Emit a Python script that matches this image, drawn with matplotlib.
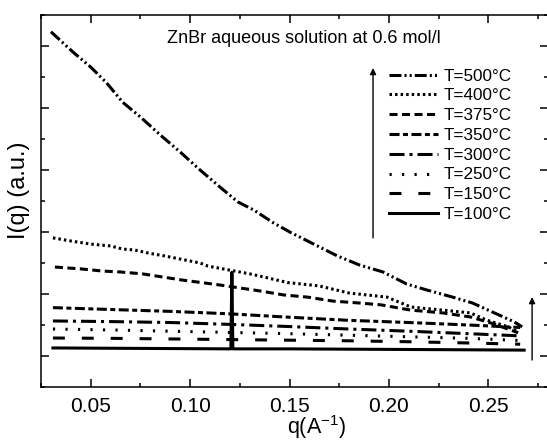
import matplotlib

matplotlib.use("Agg")
import matplotlib.pyplot as plt

plt.rcParams["font.family"] = ["Liberation Sans", "DejaVu Sans"]
plt.rcParams["lines.scale_dashes"] = False
plt.rcParams["mathtext.fontset"] = "custom"
plt.rcParams["mathtext.rm"] = "Liberation Sans"
plt.rcParams["mathtext.it"] = "Liberation Sans:italic"

# Curves (q in 1/A, intensity in arbitrary units).
Q_500 = [0.030, 0.041, 0.050, 0.058, 0.066, 0.075, 0.085, 0.095, 0.105, 0.115, 0.124,
         0.132, 0.142, 0.151, 0.174, 0.185, 0.197, 0.209, 0.219, 0.232, 0.242, 0.252,
         0.263, 0.267]
I_500 = [11.46, 10.81, 10.32, 9.81, 9.19, 8.71, 8.13, 7.58, 7.00, 6.45, 5.97,
         5.71, 5.29, 4.97, 4.23, 3.94, 3.71, 3.32, 3.13, 2.90, 2.71, 2.42,
         2.10, 1.94]
Q_400 = [0.031, 0.040, 0.050, 0.060, 0.066, 0.072, 0.079, 0.087, 0.105, 0.109, 0.130,
         0.139, 0.149, 0.165, 0.180, 0.199, 0.211, 0.227, 0.241, 0.249, 0.260, 0.265]
I_400 = [4.81, 4.71, 4.61, 4.55, 4.45, 4.42, 4.32, 4.23, 4.00, 3.90, 3.65,
         3.52, 3.37, 3.26, 3.03, 2.90, 2.58, 2.48, 2.39, 2.16, 1.94, 1.77]
Q_375 = [0.032, 0.045, 0.056, 0.065, 0.076, 0.083, 0.096, 0.108, 0.115, 0.135,
         0.147, 0.159, 0.172, 0.185, 0.196, 0.211, 0.227, 0.241, 0.252, 0.265]
I_375 = [3.87, 3.81, 3.74, 3.71, 3.65, 3.58, 3.45, 3.35, 3.29, 3.10,
         2.97, 2.90, 2.77, 2.71, 2.65, 2.48, 2.39, 2.26, 2.05, 1.75]
Q_LOW = [0.031, 0.060, 0.090, 0.120, 0.150, 0.180, 0.210, 0.240, 0.266]
I_350 = [2.56, 2.50, 2.44, 2.36, 2.25, 2.15, 2.08, 2.00, 1.92]
I_300 = [2.13, 2.11, 2.08, 2.02, 1.95, 1.87, 1.80, 1.72, 1.65]
I_250 = [1.87, 1.84, 1.80, 1.76, 1.72, 1.67, 1.62, 1.57, 1.50]
I_150 = [1.58, 1.57, 1.55, 1.53, 1.51, 1.49, 1.46, 1.42, 1.38]
Q_100 = [0.031, 0.060, 0.090, 0.1205, 0.1210, 0.1215, 0.150, 0.180, 0.210, 0.240, 0.268]
I_100 = [1.26, 1.25, 1.24, 1.23, 3.70, 1.23, 1.23, 1.22, 1.21, 1.20, 1.19]

LABELS = ["T=500°C", "T=400°C", "T=375°C", "T=350°C", "T=300°C", "T=250°C", "T=150°C",
          "T=100°C"]
X_TICKS = [0.05, 0.10, 0.15, 0.20, 0.25]
X_TICKLABELS = ["0.05", "0.10", "0.15", "0.20", "0.25"]
# arrows (q, start, end) marking the direction of increasing temperature
ARROWS = [(0.192, 4.81, 10.29), (0.272, 0.87, 2.90)]

DASHES = [
    (0, (8.6, 2.2, 1.5, 2.2, 1.5, 2.2)),   # 500
    (0, (1.8, 2.2)),                       # 400
    (0, (5.8, 3.2)),                       # 375
    (0, (7.2, 2.5, 3.6, 2.5)),             # 350
    (0, (10.8, 3.6, 2.2, 3.6)),            # 300
    (0, (1.6, 7.4)),                       # 250
    (0, (8.6, 12.2)),                      # 150
    "-",                                   # 100
]

fig = plt.figure(figsize=(5.47, 4.43), dpi=100)
ax = fig.add_axes([41 / 547, 56 / 443, 507 / 547, 372 / 443])

series = [(Q_500, I_500), (Q_400, I_400), (Q_375, I_375), (Q_LOW, I_350), (Q_LOW, I_300),
          (Q_LOW, I_250), (Q_LOW, I_150), (Q_100, I_100)]
for (q, i), ls, lab in zip(series, DASHES, LABELS):
    ax.plot(q, i, color="black", lw=2.2, linestyle=ls, label=lab)

for q, y0, y1 in ARROWS:
    ax.annotate("", xy=(q, y1), xytext=(q, y0),
                arrowprops=dict(arrowstyle="-|>", color="black", lw=1.0,
                                mutation_scale=9, shrinkA=0, shrinkB=0))

ax.set_xlim(0.025, 0.28)
ax.set_ylim(0, 12)
ax.set_xticks(X_TICKS)
ax.set_xticklabels(X_TICKLABELS)
ax.set_xticks([0.025, 0.075, 0.125, 0.175, 0.225, 0.275], minor=True)
ax.set_yticks([1, 3, 5, 7, 9, 11])
ax.set_yticks([0, 2, 4, 6, 8, 10, 12], minor=True)
ax.tick_params(which="both", direction="in", top=True, right=True, width=1.1,
               labelleft=False, labelsize=15, pad=7)
ax.tick_params(which="major", length=5.8)
ax.tick_params(which="minor", length=3.2)
for s in ax.spines.values():
    s.set_linewidth(1.1)

ax.set_xlabel("q(A$^{-1}$)", fontsize=15.5)
ax.xaxis.set_label_coords(0.543, -0.07)
ax.set_ylabel("I(q) (a.u.)", fontsize=17)
ax.yaxis.set_label_coords(-0.022, 0.53)

ax.text(0.249, 0.938, "ZnBr aqueous solution at 0.6 mol/l", transform=ax.transAxes,
        fontsize=13, va="center", ha="left")

ax.legend(loc="upper left", bbox_to_anchor=((388 - 41) / 506, 0.856), frameon=False,
          fontsize=12.3, handlelength=2.9, handletextpad=0.3, labelspacing=0.28,
          borderpad=0, borderaxespad=0)

fig.savefig("out.png", dpi=100)
